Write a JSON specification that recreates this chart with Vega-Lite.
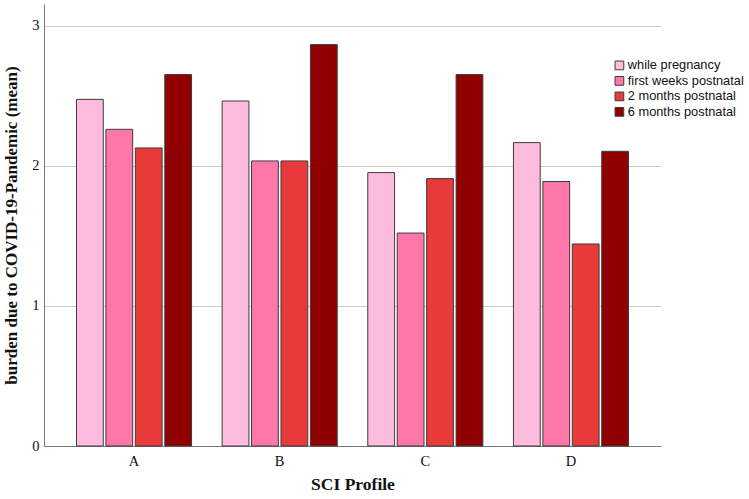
{
  "$schema": "https://vega.github.io/schema/vega-lite/v6.json",
  "autosize": {"type": "none"},
  "padding": {"left": 44, "top": 4, "right": 88, "bottom": 53},
  "width": 617,
  "height": 442,
  "background": "white",
  "config": {"view": {"stroke": null}},
  "data": {
    "values": [
      {"profile": "A", "period": "while pregnancy", "mean": 2.476},
      {"profile": "A", "period": "first weeks postnatal", "mean": 2.262},
      {"profile": "A", "period": "2 months postnatal", "mean": 2.129},
      {"profile": "A", "period": "6 months postnatal", "mean": 2.653},
      {"profile": "B", "period": "while pregnancy", "mean": 2.464},
      {"profile": "B", "period": "first weeks postnatal", "mean": 2.036},
      {"profile": "B", "period": "2 months postnatal", "mean": 2.036},
      {"profile": "B", "period": "6 months postnatal", "mean": 2.867},
      {"profile": "C", "period": "while pregnancy", "mean": 1.953},
      {"profile": "C", "period": "first weeks postnatal", "mean": 1.521},
      {"profile": "C", "period": "2 months postnatal", "mean": 1.91},
      {"profile": "C", "period": "6 months postnatal", "mean": 2.653},
      {"profile": "D", "period": "while pregnancy", "mean": 2.167},
      {"profile": "D", "period": "first weeks postnatal", "mean": 1.889},
      {"profile": "D", "period": "2 months postnatal", "mean": 1.443},
      {"profile": "D", "period": "6 months postnatal", "mean": 2.105}
    ]
  },
  "mark": {"type": "bar", "stroke": "#3c3c3c", "strokeWidth": 1},
  "encoding": {
    "x": {
      "field": "profile",
      "type": "nominal",
      "scale": {"paddingInner": 0.21, "paddingOuter": 0.223},
      "axis": {
        "title": "SCI Profile",
        "labelAngle": 0,
        "labelFont": "Liberation Serif",
        "labelFontSize": 14.5,
        "labelColor": "#111",
        "labelPadding": 8,
        "ticks": false,
        "domainColor": "#777",
        "titleFont": "Liberation Serif",
        "titleFontSize": 17.5,
        "titleFontWeight": "bold",
        "titleColor": "#111",
        "titlePadding": 8
      }
    },
    "xOffset": {
      "field": "period",
      "type": "nominal",
      "sort": ["while pregnancy", "first weeks postnatal", "2 months postnatal", "6 months postnatal"],
      "scale": {"paddingInner": 0.09, "paddingOuter": 0}
    },
    "y": {
      "field": "mean",
      "type": "quantitative",
      "scale": {"domain": [0, 3.157], "nice": false},
      "axis": {
        "title": "burden due to COVID-19-Pandemic (mean)",
        "values": [0, 1, 2, 3],
        "labelFont": "Liberation Serif",
        "labelFontSize": 14.5,
        "labelColor": "#111",
        "labelPadding": 5,
        "ticks": false,
        "domainColor": "#777",
        "gridColor": "#cccccc",
        "gridWidth": 1.2,
        "titleFont": "Liberation Serif",
        "titleFontSize": 17,
        "titleFontWeight": "bold",
        "titleColor": "#111",
        "titlePadding": 11
      }
    },
    "color": {
      "field": "period",
      "type": "nominal",
      "scale": {
        "domain": ["while pregnancy", "first weeks postnatal", "2 months postnatal", "6 months postnatal"],
        "range": ["#fdbbdd", "#fd77aa", "#e83a3b", "#900000"]
      },
      "legend": {
        "title": null,
        "orient": "none",
        "legendX": 569,
        "legendY": 55,
        "padding": 0,
        "symbolType": "square",
        "symbolSize": 76,
        "symbolStrokeColor": "#3c3c3c",
        "symbolStrokeWidth": 1,
        "symbolOpacity": 1,
        "labelFont": "Liberation Sans",
        "labelFontSize": 12.8,
        "labelColor": "#111",
        "labelOffset": 2,
        "rowPadding": 1.5,
        "labelLimit": 200
      }
    }
  }
}
